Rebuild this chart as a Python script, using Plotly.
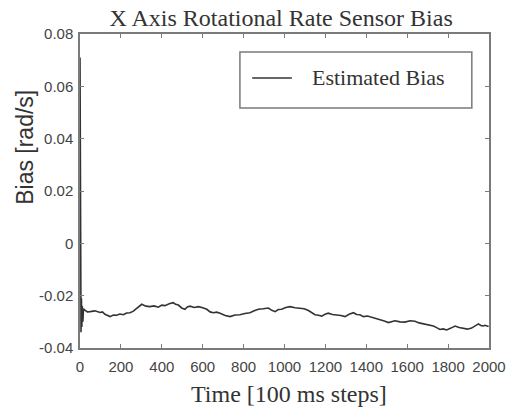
import plotly.graph_objects as go

time_steps = [0, 3, 5, 7, 9, 11, 14, 17, 24, 36, 49, 73, 98, 110, 122, 135, 147, 163, 179,
              195, 212, 228, 245, 261, 277, 290, 302, 322, 342, 362, 383, 400, 416, 436,
              456, 468, 481, 497, 513, 525, 538, 558, 579, 600, 620, 636, 652, 668, 685,
              710, 734, 758, 782, 806, 831, 852, 872, 896, 921, 938, 954, 970, 986, 1006,
              1027, 1052, 1076, 1096, 1117, 1133, 1149, 1166, 1182, 1198, 1214, 1234,
              1255, 1276, 1296, 1316, 1337, 1353, 1369, 1386, 1406, 1427, 1447, 1467,
              1488, 1508, 1524, 1540, 1565, 1589, 1614, 1638, 1658, 1679, 1704, 1728,
              1744, 1760, 1776, 1793, 1814, 1834, 1854, 1874, 1895, 1915, 1932, 1948,
              1960, 1972, 1980, 1989, 1998]
bias = [0.071, -0.022, -0.034, -0.021, -0.032, -0.024, -0.030, -0.025, -0.0255, -0.0262,
        -0.0261, -0.0258, -0.0264, -0.0262, -0.0271, -0.0276, -0.0280, -0.0274, -0.0275,
        -0.0270, -0.0273, -0.0266, -0.0265, -0.0259, -0.0248, -0.0238, -0.0233, -0.0240,
        -0.0242, -0.0239, -0.0244, -0.0236, -0.0238, -0.0231, -0.0227, -0.0233, -0.0236,
        -0.0247, -0.0252, -0.0243, -0.0240, -0.0245, -0.0242, -0.0246, -0.0252, -0.0262,
        -0.0265, -0.0263, -0.0267, -0.0276, -0.0280, -0.0274, -0.0273, -0.0268, -0.0265,
        -0.0258, -0.0252, -0.0250, -0.0247, -0.0256, -0.0261, -0.0253, -0.0252, -0.0245,
        -0.0242, -0.0246, -0.0247, -0.0250, -0.0257, -0.0266, -0.0273, -0.0275, -0.0278,
        -0.0271, -0.0267, -0.0272, -0.0273, -0.0276, -0.0280, -0.0271, -0.0265, -0.0272,
        -0.0273, -0.0280, -0.0278, -0.0283, -0.0285, -0.0290, -0.0297, -0.0303, -0.0298,
        -0.0296, -0.0300, -0.0301, -0.0296, -0.0298, -0.0304, -0.0308, -0.0310, -0.0316,
        -0.0322, -0.0329, -0.0327, -0.0331, -0.0324, -0.0316, -0.0322, -0.0326, -0.0328,
        -0.0324, -0.0316, -0.0308, -0.0314, -0.0316, -0.0313, -0.0316, -0.0318]

x_ticks = [0, 200, 400, 600, 800, 1000, 1200, 1400, 1600, 1800, 2000]
x_tick_labels = ["0", "200", "400", "600", "800", "1000", "1200", "1400", "1600", "1800", "2000"]
y_ticks = [-0.04, -0.02, 0, 0.02, 0.04, 0.06, 0.08]
y_tick_labels = ["-0.04", "-0.02", "0", "0.02", "0.04", "0.06", "0.08"]

series_name = "Estimated Bias"
line_color = "#333333"
frame_color = "#7a7a7a"

fig = go.Figure()
fig.add_trace(go.Scatter(x=time_steps, y=bias, mode="lines", name=series_name,
                         showlegend=False, line=dict(color=line_color, width=1.6)))

axis_common = dict(showline=True, linecolor=frame_color, linewidth=1.5, mirror="allticks",
                   ticks="inside", ticklen=4, tickcolor=frame_color, showgrid=False,
                   zeroline=False, automargin=False,
                   tickfont=dict(family="Liberation Sans", size=15, color="#444444"))

# legend drawn as a framed box with a line sample and label (paper coordinates)
legend_shapes = [
    dict(type="rect", xref="paper", yref="paper", x0=0.391, x1=0.958, y0=0.764, y1=0.943,
         line=dict(color=frame_color, width=1.5), fillcolor="white", layer="above"),
    dict(type="line", xref="paper", yref="paper", x0=0.421, x1=0.518, y0=0.860, y1=0.860,
         line=dict(color=line_color, width=1.5), layer="above"),
]

fig.update_layout(
    width=513, height=411,
    margin=dict(l=80, r=24, t=34, b=63),
    paper_bgcolor="white", plot_bgcolor="white",
    title=dict(text="X Axis Rotational Rate Sensor Bias", x=0.548, xanchor="center",
               y=0.956, yanchor="middle", yref="container",
               font=dict(family="Liberation Serif", size=24, color="#333333")),
    xaxis=dict(range=[0, 2000], tickvals=x_ticks, ticktext=x_tick_labels,
               ticklabelstandoff=4, **axis_common),
    yaxis=dict(range=[-0.04, 0.08], tickvals=y_ticks, ticktext=y_tick_labels,
               ticklabelstandoff=2, **axis_common),
    showlegend=False,
    shapes=legend_shapes,
    annotations=[
        dict(text="Bias [rad/s]", textangle=-90, xref="paper", yref="paper",
             x=-0.135, y=0.64, xanchor="center", yanchor="middle", showarrow=False,
             font=dict(family="Liberation Sans", size=23, color="#333333")),
        dict(text="Time [100 ms steps]", xref="paper", yref="paper",
             x=0.511, y=-0.146, xanchor="center", yanchor="middle", showarrow=False,
             font=dict(family="Liberation Serif", size=24, color="#333333")),
        dict(text=series_name, xref="paper", yref="paper",
             x=0.562, y=0.860, xanchor="left", yanchor="middle", showarrow=False,
             font=dict(family="Liberation Serif", size=22, color="#333333")),
    ],
)

fig.write_html("out.html")
